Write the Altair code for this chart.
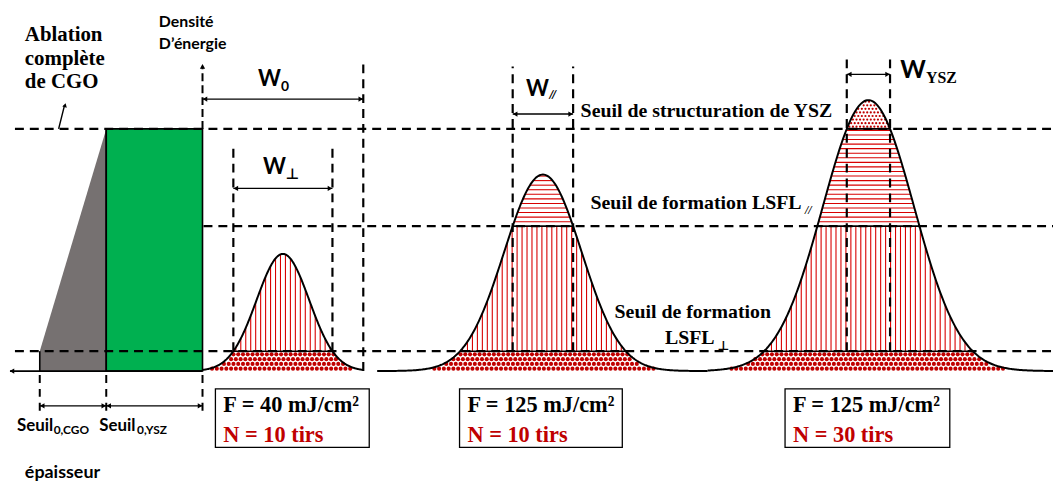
import altair as alt
import numpy as np
import pandas as pd

# ---------------- data ----------------
# energy-density thresholds (arbitrary units, baseline = 0)
threshold_labels = ["LSFL⊥", "LSFL//", "YSZ"]
threshold_values = [20, 146, 244]

# Gaussian laser pulses (position units, energy units)
pulse_center = [81, 343, 671]
pulse_peak = [118, 198, 273]
pulse_sigma = [26.5, 39, 46]
pulse_start = [0, 176, 509]
pulse_end = [162, 509, 857]
pulse_fluence = ["F = 40 mJ/cm²", "F = 125 mJ/cm²", "F = 125 mJ/cm²"]
pulse_shots = ["N = 10 tirs", "N = 10 tirs", "N = 30 tirs"]

# material stack (depth axis to the left of the energy axis)
layer_names = ["CGO", "YSZ"]
layer_left = [-164, -97]
layer_right = [-97, 0]
cgo_wedge_top = [20, 244]
ysz_top = 244

# ---------------- helpers ----------------
XDOM = [-196, 857]
YDOM = [-112, 364]
XS = alt.Scale(domain=XDOM, nice=False, zero=False)
YS = alt.Scale(domain=YDOM, nice=False, zero=False)
RED = "#D80000"
DOT = "#C00000"
PALE = "#EBA8A8"
SERIF = "Liberation Serif"
SANS = "Lato, DejaVu Sans"


def X(f="x"):
    return alt.X(f"{f}:Q", scale=XS, axis=None)


def Y(f="y"):
    return alt.Y(f"{f}:Q", scale=YS, axis=None)


def gauss(x, i):
    return pulse_peak[i] * np.exp(-((np.asarray(x) - pulse_center[i]) ** 2) / (2 * pulse_sigma[i] ** 2))


def half_width(level, i):
    return pulse_sigma[i] * np.sqrt(2 * np.log(pulse_peak[i] / level))


def rules(rows, color="black", width=2.0, dash=None):
    df = pd.DataFrame(rows, columns=["x", "x2", "y", "y2"])
    kw = dict(color=color, strokeWidth=width)
    if dash:
        kw["strokeDash"] = dash
    return alt.Chart(df).mark_rule(**kw).encode(
        x=X("x"), x2="x2:Q", y=Y("y"), y2="y2:Q")


def heads(rows, size=28):
    df = pd.DataFrame(rows, columns=["x", "y", "s", "a"])
    return alt.Chart(df).mark_point(filled=True, color="black", size=size, opacity=1, strokeWidth=0).encode(
        x=X("x"), y=Y("y"), shape=alt.Shape("s:N", scale=None), angle=alt.Angle("a:Q", scale=None))


def texts(rows, font, size, color="black", align="left", style="normal"):
    df = pd.DataFrame(rows, columns=["x", "y", "t"])
    return alt.Chart(df).mark_text(font=font, fontSize=size, fontWeight="bold", fontStyle=style,
                                   color=color, align=align, baseline="alphabetic").encode(
        x=X("x"), y=Y("y"), text="t:N")


def dbl_arrow(x1, x2, y):
    return [rules([(x1, x2, y, y)], width=1.3),
            heads([(x1 + 2.5, y, "triangle-left", 0), (x2 - 2.5, y, "triangle-right", 0)])]


layers = []

# ---------------- material stack ----------------
cgo_df = pd.DataFrame({"x": [layer_left[0], layer_right[0]], "y": cgo_wedge_top, "y0": [0, 0]})
layers.append(alt.Chart(cgo_df).mark_area(color="#767171", opacity=1).encode(x=X(), y=Y(), y2="y0:Q"))
ysz_df = pd.DataFrame({"x": [layer_left[1]], "x2": [layer_right[1]], "y": [0], "y2": [ysz_top]})
layers.append(alt.Chart(ysz_df).mark_rect(color="#00B050", stroke="black", strokeWidth=1.6, opacity=1).encode(
    x=X(), x2="x2:Q", y=Y(), y2="y2:Q"))
layers.append(rules([(layer_left[0], layer_left[0], 0, cgo_wedge_top[0]),
                     (layer_left[1], layer_left[1], 0, ysz_top)], width=1.6))

# baseline with arrow (depth direction)
layers.append(rules([(-194, 0, 0, 0)], width=1.8))
layers.append(heads([(-192, 0, "triangle-left", 0)]))

# energy axis
layers.append(rules([(0, 0, ysz_top, 306)], width=2, dash=[8, 4]))
layers.append(heads([(0, 307, "triangle-up", 0)]))

# thickness markers below baseline
layers.append(rules([(v, v, -4, -46) for v in [layer_left[0], layer_left[1], layer_right[1]]],
                    width=2, dash=[8, 6]))
layers += dbl_arrow(layer_left[0], layer_left[1], -35)
layers += dbl_arrow(layer_left[1], layer_right[1], -35)

# ---------------- Gaussian fills ----------------
t1, t2, t3 = threshold_values
bands, tops = [], []
dots, small_dots, vlines, hlines = [], [], [], []
for i in range(3):
    xs = np.linspace(pulse_start[i], pulse_end[i], 300)
    g = gauss(xs, i)
    bands += [(i, a, min(b, t1)) for a, b in zip(xs, g)]
    # dotted band below the first threshold
    for r, ey in enumerate(np.arange(2.4, t1, 4.8)):
        off = 2.4 if r % 2 else 0.0
        for xx in np.arange(pulse_start[i] + off, pulse_end[i], 4.8):
            if ey + 0.5 <= gauss(xx, i):
                dots.append((xx, ey))
    # vertical stripes between thresholds 1 and 2
    hw = half_width(t1, i)
    for xx in np.arange(pulse_center[i] - hw + 2.5, pulse_center[i] + hw, 5.0):
        top = min(float(gauss(xx, i)), t2)
        if top > t1:
            vlines.append((xx, xx, t1, top))
    # horizontal stripes between thresholds 2 and 3
    if pulse_peak[i] > t2:
        for ey in np.arange(t2 + 4.5, min(pulse_peak[i], t3), 4.6):
            w = half_width(ey, i)
            hlines.append((pulse_center[i] - w, pulse_center[i] + w, ey, ey))
    # fine dots above threshold 3
    if pulse_peak[i] > t3:
        w3 = half_width(t3, i)
        xt = np.linspace(pulse_center[i] - w3, pulse_center[i] + w3, 80)
        tops += [(i, a, b) for a, b in zip(xt, gauss(xt, i))]
        for r, ey in enumerate(np.arange(t3 + 2.2, pulse_peak[i], 3.6)):
            off = 1.8 if r % 2 else 0.0
            for xx in np.arange(pulse_center[i] - 30 + off, pulse_center[i] + 30, 3.6):
                if ey + 1.0 <= gauss(xx, i):
                    small_dots.append((xx, ey))

band_df = pd.DataFrame(bands, columns=["g", "x", "y"])
layers.append(alt.Chart(band_df).mark_area(color=PALE, opacity=1).encode(
    x=X(), y=Y(), y2=alt.datum(0), detail="g:N", order="x:Q"))
top_df = pd.DataFrame(tops, columns=["g", "x", "y"])
layers.append(alt.Chart(top_df).mark_area(color="#F5D0D0", opacity=1).encode(
    x=X(), y=Y(), y2=alt.datum(t3), detail="g:N", order="x:Q"))
dots_df = pd.DataFrame(dots, columns=["x", "y"])
layers.append(alt.Chart(dots_df).mark_circle(size=17, color=DOT, opacity=1).encode(x=X(), y=Y()))
sd_df = pd.DataFrame(small_dots, columns=["x", "y"])
layers.append(alt.Chart(sd_df).mark_circle(size=5, color=DOT, opacity=1).encode(x=X(), y=Y()))
layers.append(rules(vlines, color=RED, width=1.1))
layers.append(rules(hlines, color=RED, width=1.1))

# Gaussian outlines
curves = []
for i in range(3):
    xs = np.linspace(pulse_start[i], pulse_end[i], 300)
    curves += [(i, a, b) for a, b in zip(xs, gauss(xs, i))]
cdf = pd.DataFrame(curves, columns=["g", "x", "y"])
layers.append(alt.Chart(cdf).mark_line(color="black", strokeWidth=2).encode(
    x=X(), y=Y(), detail="g:N", order="x:Q"))

# ---------------- threshold lines ----------------
layers.append(rules([(-189, 857, t3, t3), (1, 857, t2, t2), (-189, 857, t1, t1)], width=2.2, dash=[9, 6]))
solid = []
for i in range(3):
    for t in threshold_values:
        if pulse_peak[i] > t:
            w = half_width(t, i)
            solid.append((pulse_center[i] - w, pulse_center[i] + w, t, t))
layers.append(rules(solid, width=1.6))

# ---------------- widths W ----------------
w_perp = half_width(t1, 0)
w_par = half_width(t2, 1)
w_ysz = half_width(t3, 2)
wl = [
    (pulse_end[0], pulse_end[0], 0, 309),
    (pulse_center[0] - w_perp, pulse_center[0] - w_perp, t1, 225),
    (pulse_center[0] + w_perp, pulse_center[0] + w_perp, t1, 225),
    (pulse_center[1] - w_par, pulse_center[1] - w_par, t1, 307),
    (pulse_center[1] + w_par, pulse_center[1] + w_par, t1, 307),
    (pulse_center[2] - w_ysz, pulse_center[2] - w_ysz, t1, 317),
    (pulse_center[2] + w_ysz, pulse_center[2] + w_ysz, t1, 317),
]
layers.append(rules(wl, width=2.2, dash=[9, 6]))
layers += dbl_arrow(0, pulse_end[0], 274)
layers += dbl_arrow(pulse_center[0] - w_perp, pulse_center[0] + w_perp, 184)
layers += dbl_arrow(pulse_center[1] - w_par, pulse_center[1] + w_par, 259)
layers += dbl_arrow(pulse_center[2] - w_ysz, pulse_center[2] + w_ysz, 299)

# pointer to "Ablation complète de CGO"
layers.append(rules([(-145, -139, t3, 268)], width=1.4))
layers.append(heads([(-138.5, 268, "triangle-up", 15)], size=22))

# ---------------- condition boxes ----------------
box_left = [13, 259, 587]
box_right = [168, 423, 753]
bdf = pd.DataFrame({"x": box_left, "x2": box_right, "y": [-18] * 3, "y2": [-77] * 3})
layers.append(alt.Chart(bdf).mark_rect(fill="white", stroke="black", strokeWidth=1.3).encode(
    x=X(), x2="x2:Q", y=Y(), y2="y2:Q"))
layers.append(texts([(bl + 8, -41, f) for bl, f in zip(box_left, pulse_fluence)], SERIF, 22.5))
layers.append(texts([(bl + 8, -71, n) for bl, n in zip(box_left, pulse_shots)], SERIF, 22.5, color="#C00000"))

# ---------------- labels ----------------
layers.append(texts([(-179, 333, "Ablation"), (-179, 308, "complète"), (-179, 285, "de CGO")], SERIF, 21))
layers.append(texts([(381, 256, "Seuil de structuration de YSZ"),
                     (391, 163, "Seuil de formation LSFL"),
                     (466, 27, "LSFL")], SERIF, 20))
layers.append(texts([(494, 53, "Seuil de formation")], SERIF, 20, align="center"))
layers.append(texts([(607, 158, "//")], SERIF, 12, style="italic"))
layers.append(texts([(519, 21, "⊥")], SANS, 13))
layers.append(texts([(729, 290, "YSZ")], SERIF, 16))

layers.append(texts([(-44, 347, "Densité"), (-44, 325, "D’énergie")], SANS, 16))
layers.append(texts([(56, 287, "W"), (61, 199, "W"), (326, 277, "W")], SANS, 22))
layers.append(texts([(703, 295, "W")], SANS, 24.5))
layers.append(texts([(79, 282, "0")], SANS, 14))
layers.append(texts([(84, 194, "⊥")], SANS, 15))
layers.append(texts([(349, 275, "//")], SANS, 12, style="italic"))
layers.append(texts([(-187, -60, "Seuil"), (-104, -60, "Seuil")], SANS, 17))
layers.append(texts([(-179, -108, "épaisseur")], SANS, 18))
layers.append(texts([(-150, -63, "0,CGO"), (-66, -63, "0,YSZ")], SANS, 12))

chart = alt.layer(*layers).properties(
    width=1053, height=476, padding=0, autosize="none", background="white"
).configure_view(stroke=None)

chart.save("out.html", embed_options={"renderer": "svg", "actions": False})
